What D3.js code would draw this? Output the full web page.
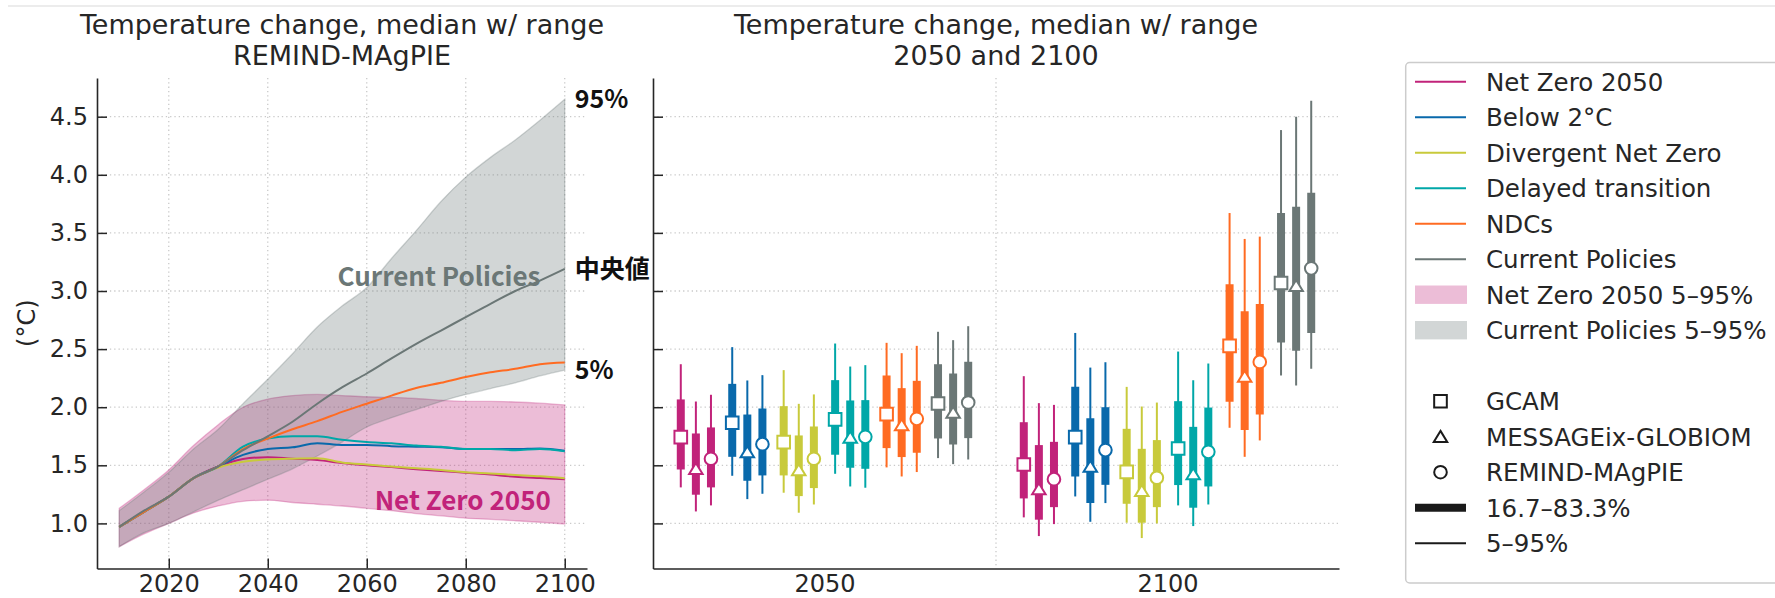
<!DOCTYPE html>
<html>
<head>
<meta charset="utf-8">
<script src="https://cdn.jsdelivr.net/npm/d3@7"></script>
<style>
  body { margin: 0; background: #fff; }
  svg { display: block; font-family: "DejaVu Sans", sans-serif; }
</style>
</head>
<body>
<svg id="chart" width="1775" height="598"></svg>
<script>
// ---- data: REMIND-MAgPIE time series (left panel) ----
const years = [2010, 2015, 2020, 2025, 2030, 2035, 2040, 2045, 2050, 2055, 2060, 2065, 2070, 2075, 2080, 2085, 2090, 2095, 2100];
const netZero2050 = [0.97, 1.10, 1.23, 1.39, 1.49, 1.555, 1.57, 1.557, 1.546, 1.52, 1.50, 1.485, 1.466, 1.45, 1.437, 1.42, 1.402, 1.39, 1.379];
const below2C = [0.97, 1.10, 1.23, 1.39, 1.49, 1.59, 1.64, 1.655, 1.69, 1.675, 1.675, 1.665, 1.66, 1.655, 1.64, 1.64, 1.64, 1.645, 1.625];
const divergentNZ = [0.97, 1.10, 1.23, 1.39, 1.48, 1.53, 1.55, 1.557, 1.56, 1.525, 1.506, 1.49, 1.475, 1.46, 1.44, 1.43, 1.417, 1.405, 1.388];
const delayedTransition = [0.97, 1.10, 1.23, 1.39, 1.49, 1.66, 1.73, 1.75, 1.75, 1.72, 1.70, 1.69, 1.67, 1.66, 1.64, 1.64, 1.63, 1.64, 1.62];
const ndcs = [0.97, 1.10, 1.23, 1.39, 1.49, 1.64, 1.73, 1.81, 1.88, 1.96, 2.03, 2.10, 2.165, 2.21, 2.26, 2.30, 2.33, 2.37, 2.385];
const currentPolicies = [0.97, 1.11, 1.23, 1.39, 1.49, 1.63, 1.75, 1.875, 2.03, 2.17, 2.29, 2.42, 2.545, 2.66, 2.775, 2.89, 3.0, 3.09, 3.19];

// 5-95% ranges
const nzLow = [0.80, 0.91, 1.00, 1.09, 1.15, 1.19, 1.20, 1.18, 1.165, 1.15, 1.13, 1.11, 1.085, 1.065, 1.045, 1.035, 1.023, 1.01, 0.995];
const nzHigh = [1.13, 1.29, 1.46, 1.67, 1.85, 2.00, 2.07, 2.10, 2.11, 2.10, 2.09, 2.085, 2.075, 2.06, 2.05, 2.05, 2.045, 2.035, 2.02];
const cpLow = [0.80, 0.92, 1.00, 1.10, 1.20, 1.29, 1.38, 1.47, 1.58, 1.70, 1.83, 1.91, 1.98, 2.05, 2.11, 2.16, 2.21, 2.27, 2.32];
const cpHigh = [1.11, 1.27, 1.44, 1.64, 1.81, 2.03, 2.24, 2.46, 2.69, 2.87, 3.03, 3.28, 3.52, 3.77, 3.98, 4.15, 4.30, 4.47, 4.65];

const scenarios = ["Net Zero 2050", "Below 2°C", "Divergent Net Zero", "Delayed transition", "NDCs", "Current Policies"];
const scenarioColors = ["#c1237a", "#0969ab", "#c8ca3b", "#00a7a8", "#ff6b22", "#6b7776"];
const models = ["GCAM", "MESSAGEix-GLOBIOM", "REMIND-MAgPIE"];
const boxYears = ["2050", "2100"];

// ---- data: box stats per scenario x model (GCAM, MESSAGE, REMIND) ----
const p5_2050 = [1.31, 1.103, 1.155, 1.41, 1.209, 1.255, 1.264, 1.092, 1.163, 1.427, 1.318, 1.307, 1.482, 1.404, 1.442, 1.562, 1.51, 1.55];
const p17_2050 = [1.464, 1.247, 1.31, 1.573, 1.367, 1.413, 1.413, 1.235, 1.304, 1.591, 1.479, 1.47, 1.648, 1.571, 1.608, 1.731, 1.679, 1.734];
const p50_2050 = [1.743, 1.47, 1.556, 1.866, 1.614, 1.682, 1.70, 1.459, 1.556, 1.895, 1.74, 1.745, 1.94, 1.846, 1.90, 2.032, 1.955, 2.041];
const p83_2050 = [2.067, 1.774, 1.826, 2.201, 1.937, 1.989, 2.009, 1.757, 1.834, 2.233, 2.058, 2.061, 2.273, 2.164, 2.227, 2.37, 2.29, 2.391];
const p95_2050 = [2.37, 2.049, 2.107, 2.517, 2.23, 2.276, 2.319, 2.029, 2.11, 2.548, 2.35, 2.362, 2.554, 2.465, 2.528, 2.649, 2.577, 2.697];

const p5_2100 = [1.052, 0.891, 0.994, 1.232, 1.014, 1.175, 1.006, 0.874, 1.0, 1.155, 0.977, 1.163, 1.823, 1.573, 1.714, 2.273, 2.187, 2.33];
const p17_2100 = [1.215, 1.032, 1.14, 1.404, 1.175, 1.332, 1.169, 1.006, 1.14, 1.33, 1.135, 1.318, 2.046, 1.803, 1.937, 2.556, 2.485, 2.639];
const p50_2100 = [1.507, 1.295, 1.381, 1.742, 1.49, 1.631, 1.444, 1.281, 1.393, 1.645, 1.424, 1.616, 2.528, 2.264, 2.39, 3.069, 3.044, 3.195];
const p83_2100 = [1.871, 1.674, 1.702, 2.175, 1.906, 2.0, 1.814, 1.642, 1.717, 2.052, 1.831, 1.997, 3.058, 2.826, 2.889, 3.671, 3.726, 3.846];
const p95_2100 = [2.267, 2.035, 2.02, 2.639, 2.341, 2.387, 2.175, 2.006, 2.04, 2.479, 2.232, 2.376, 3.671, 3.448, 3.468, 4.385, 4.5, 4.637];

const yTicks = [1.0, 1.5, 2.0, 2.5, 3.0, 3.5, 4.0, 4.5];
const xTicks = [2020, 2040, 2060, 2080, 2100];

// ---- setup ----
const svg = d3.select("#chart");
const ink = "#262626";
const gridColor = "#c9c9c9";

const x1 = d3.scaleLinear().domain([2005.5, 2104.5]).range([97, 587]);
const x2 = d3.scaleLinear().domain([-0.5, 1.5]).range([653, 1339]);
const y = d3.scaleLinear().domain([0.612, 4.833]).range([568.5, 78]);

// thin rule at the top of the figure
svg.append("line")
  .attr("x1", 8).attr("x2", 1775).attr("y1", 6).attr("y2", 6)
  .attr("stroke", "#e6e6e6").attr("stroke-width", 1.5);

function grid(g, xs, xVals) {
  g.selectAll(".hg").data(yTicks).join("line")
    .attr("x1", xs.range()[0]).attr("x2", xs.range()[1])
    .attr("y1", d => y(d)).attr("y2", d => y(d))
    .attr("stroke", gridColor).attr("stroke-width", 1.3).attr("stroke-dasharray", "1.3,3");
  g.selectAll(".vg").data(xVals).join("line")
    .attr("x1", d => xs(d)).attr("x2", d => xs(d))
    .attr("y1", y.range()[1]).attr("y2", y.range()[0])
    .attr("stroke", gridColor).attr("stroke-width", 1.3).attr("stroke-dasharray", "1.3,3");
}

function styleAxis(g) {
  g.select(".domain").attr("stroke", ink).attr("stroke-width", 1.6);
  g.selectAll(".tick line").attr("stroke", ink).attr("stroke-width", 1.5);
  g.selectAll(".tick text").attr("fill", ink).style("font-size", "24px")
    .style("font-family", "'DejaVu Sans', sans-serif");
}

// ---- left panel ----
const left = svg.append("g");
grid(left.append("g"), x1, xTicks);

const rows = years.map((yr, i) => ({
  year: yr, nzLow: nzLow[i], nzHigh: nzHigh[i], cpLow: cpLow[i], cpHigh: cpHigh[i]
}));

const band = (lo, hi) => d3.area()
  .x(d => x1(d.year)).y0(d => y(d[lo])).y1(d => y(d[hi]))
  .curve(d3.curveMonotoneX);

left.append("path").datum(rows).attr("d", band("nzLow", "nzHigh"))
  .attr("fill", scenarioColors[0]).attr("fill-opacity", 0.3)
  .attr("stroke", scenarioColors[0]).attr("stroke-opacity", 0.3).attr("stroke-width", 1.3);
left.append("path").datum(rows).attr("d", band("cpLow", "cpHigh"))
  .attr("fill", scenarioColors[5]).attr("fill-opacity", 0.3)
  .attr("stroke", scenarioColors[5]).attr("stroke-opacity", 0.3).attr("stroke-width", 1.3);

const seriesList = [netZero2050, below2C, divergentNZ, delayedTransition, ndcs, currentPolicies];
const line = d3.line().x((d, i) => x1(years[i])).y(d => y(d)).curve(d3.curveMonotoneX);
seriesList.forEach((s, k) => {
  left.append("path").datum(s).attr("d", line)
    .attr("fill", "none").attr("stroke", scenarioColors[k]).attr("stroke-width", 2);
});

const yAxisL = left.append("g").attr("transform", `translate(${x1.range()[0]},0)`)
  .call(d3.axisLeft(y).tickValues(yTicks).tickSize(-10).tickSizeOuter(0).tickPadding(9)
    .tickFormat(d3.format(".1f")));
styleAxis(yAxisL);
const xAxisL = left.append("g").attr("transform", `translate(0,${y.range()[0]})`)
  .call(d3.axisBottom(x1).tickValues(xTicks).tickSize(-10).tickSizeOuter(0).tickPadding(6.5)
    .tickFormat(d3.format("d")));
styleAxis(xAxisL);

// annotations on the left panel
const last = years.length - 1;
const note = (txt, xv, yv, color, anchor) => left.append("text")
  .attr("x", xv).attr("y", yv).attr("dy", "0.36em")
  .attr("text-anchor", anchor).attr("fill", color)
  .style("font-family", "'Noto Sans CJK JP', 'DejaVu Sans', sans-serif")
  .style("font-weight", "bold").style("font-size", "25px")
  .text(txt);
note("95%", x1(2100) + 10, y(cpHigh[last]), "#111", "start");
note("中央値", x1(2100) + 10, y(currentPolicies[last]), "#111", "start");
note("5%", x1(2100) + 10, y(cpLow[last]), "#111", "start");
note("Current Policies", x1(2074.6), y(3.12), scenarioColors[5], "middle").style("font-size", "26px");
note("Net Zero 2050", x1(2079.4), y(1.20), scenarioColors[0], "middle").style("font-size", "26px");

left.append("text").attr("transform", `translate(27,${(y.range()[0] + y.range()[1]) / 2}) rotate(-90)`)
  .attr("text-anchor", "middle").attr("dy", "0.35em").attr("fill", ink)
  .style("font-size", "24px").text("(°C)");

// ---- right panel ----
const right = svg.append("g");
grid(right.append("g"), x2, [0.5]);

const stats = [
  [p5_2050, p17_2050, p50_2050, p83_2050, p95_2050],
  [p5_2100, p17_2100, p50_2100, p83_2100, p95_2100]
];
const boxes = [];
boxYears.forEach((yr, yi) => {
  scenarios.forEach((sc, si) => {
    models.forEach((m, mi) => {
      const k = si * 3 + mi;
      boxes.push({
        pos: yi + (si - 2.5) * 0.15 + (mi - 1) * 0.044,
        color: scenarioColors[si], model: mi,
        p5: stats[yi][0][k], p17: stats[yi][1][k], p50: stats[yi][2][k],
        p83: stats[yi][3][k], p95: stats[yi][4][k]
      });
    });
  });
});

const triangle = {
  draw(ctx, size) {
    const s = Math.sqrt(size) / 2;
    ctx.moveTo(0, -s * 0.95);
    ctx.lineTo(s * 1.1, s * 0.85);
    ctx.lineTo(-s * 1.1, s * 0.85);
    ctx.closePath();
  }
};
const markerPaths = [
  d3.symbol(d3.symbolSquare, 160)(),
  d3.symbol(triangle, 150)(),
  d3.symbol(d3.symbolCircle, 125)()
];

const bg = right.append("g").selectAll("g").data(boxes).join("g")
  .attr("transform", d => `translate(${x2(d.pos)},0)`);
bg.append("line").attr("y1", d => y(d.p5)).attr("y2", d => y(d.p95))
  .attr("stroke", d => d.color).attr("stroke-width", 2);
bg.append("line").attr("y1", d => y(d.p17)).attr("y2", d => y(d.p83))
  .attr("stroke", d => d.color).attr("stroke-width", 8);
bg.append("path").attr("d", d => markerPaths[d.model])
  .attr("transform", d => `translate(0,${y(d.p50)})`)
  .attr("fill", "#fff").attr("stroke", d => d.color).attr("stroke-width", 2);

const yAxisR = right.append("g").attr("transform", `translate(${x2.range()[0]},0)`)
  .call(d3.axisLeft(y).tickValues(yTicks).tickSize(-10).tickSizeOuter(0).tickFormat(""));
styleAxis(yAxisR);
const xAxisR = right.append("g").attr("transform", `translate(0,${y.range()[0]})`)
  .call(d3.axisBottom(x2).tickValues([0, 1]).tickSize(0).tickSizeOuter(0).tickPadding(6.5)
    .tickFormat(i => boxYears[i]));
styleAxis(xAxisR);

// ---- titles ----
const title = (cx, l1, l2) => {
  const t = svg.append("text").attr("text-anchor", "middle").attr("fill", ink)
    .style("font-size", "27px");
  t.append("tspan").attr("x", cx).attr("y", 34.3).text(l1);
  t.append("tspan").attr("x", cx).attr("y", 65).text(l2);
};
title(d3.mean(x1.range()), "Temperature change, median w/ range", "REMIND-MAgPIE");
title(d3.mean(x2.range()), "Temperature change, median w/ range", "2050 and 2100");

// ---- legend ----
const leg = svg.append("g");
leg.append("rect").attr("x", 1405.7).attr("y", 62.5).attr("width", 420).attr("height", 520.5)
  .attr("rx", 4).attr("fill", "#fff").attr("stroke", "#cccccc").attr("stroke-width", 1.5);

const legendItems = [
  ...scenarios.map((s, i) => ({ label: s, kind: "line", color: scenarioColors[i] })),
  { label: "Net Zero 2050 5–95%", kind: "patch", color: scenarioColors[0] },
  { label: "Current Policies 5–95%", kind: "patch", color: scenarioColors[5] },
  { label: "", kind: "none" },
  ...models.map((m, i) => ({ label: m, kind: "marker", marker: i })),
  { label: "16.7–83.3%", kind: "thick" },
  { label: "5–95%", kind: "thin" }
];
const hx0 = 1415, hx1 = 1466;
const li = leg.selectAll("g.item").data(legendItems).join("g")
  .attr("transform", (d, i) => `translate(0,${81.7 + i * 35.5})`);
li.each(function (d) {
  const g = d3.select(this);
  if (d.kind === "line" || d.kind === "thick" || d.kind === "thin") {
    g.append("line").attr("x1", hx0).attr("x2", hx1)
      .attr("stroke", d.color || "#1a1a1a")
      .attr("stroke-width", d.kind === "thick" ? 8 : 2);
  } else if (d.kind === "patch") {
    g.append("rect").attr("x", hx0).attr("y", -9.2).attr("width", hx1 - hx0 + 1).attr("height", 18.4)
      .attr("fill", d.color).attr("fill-opacity", 0.3);
  } else if (d.kind === "marker") {
    g.append("path").attr("d", markerPaths[d.marker])
      .attr("transform", `translate(${(hx0 + hx1) / 2},0)`)
      .attr("fill", "#fff").attr("stroke", "#1a1a1a").attr("stroke-width", 2);
  }
  g.append("text").attr("x", 1486).attr("dy", "0.37em").attr("fill", ink)
    .style("font-size", "24.5px").text(d.label);
});
</script>
</body>
</html>
